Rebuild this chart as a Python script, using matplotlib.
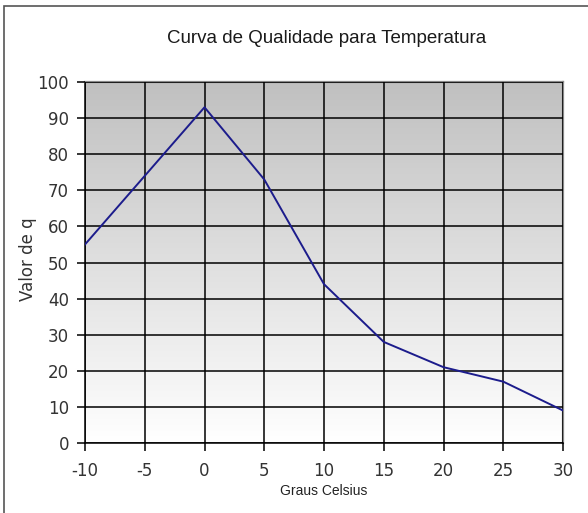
import numpy as np
import matplotlib
matplotlib.use("Agg")
import matplotlib.pyplot as plt
from matplotlib.patches import Rectangle
from matplotlib.colors import LinearSegmentedColormap

# temperatura (graus celsius) vs valor de q
temps = [-10, -5, 0, 5, 10, 15, 20, 25, 30]
q_vals = [55, 74, 93, 73, 44, 28, 21, 17, 9]
x_ticks = [-10, -5, 0, 5, 10, 15, 20, 25, 30]
y_ticks = [0, 10, 20, 30, 40, 50, 60, 70, 80, 90, 100]

plt.rcParams['font.family'] = ['DejaVu Sans']
plt.rcParams['axes.unicode_minus'] = False

W, H = 588, 513
fig = plt.figure(figsize=(W / 100, H / 100), dpi=100)
ax = fig.add_axes([85 / W, (H - 443) / H, (563 - 85) / W, (443 - 82) / H])

# outer chart frame
fig.patches.append(Rectangle((3.5 / W, -0.05), 1.1, 1 - 5.5 / H + 0.05,
                             transform=fig.transFigure, fill=False,
                             edgecolor='#555555', linewidth=1.2))

# gradient background, gray at top to white at bottom
grad = np.linspace(0, 1, 256).reshape(-1, 1)
cmap = LinearSegmentedColormap.from_list('g', ['#c0c0c0', '#ffffff'])
ax.imshow(grad, extent=[-10, 30, 0, 100], aspect='auto', origin='upper',
          cmap=cmap, zorder=0)

ax.plot(temps, q_vals, color='#1c1c8c', linewidth=1.4, zorder=3)

ax.set_xlim(-10, 30)
ax.set_ylim(0, 100)
ax.set_xticks(x_ticks)
ax.set_yticks(y_ticks)
ax.grid(True, color='black', linewidth=1.1, zorder=2)
ax.set_axisbelow(False)
ax.tick_params(direction='out', length=5.5, width=1.1, labelsize=12,
               labelcolor='#333333')
ax.tick_params(axis='y', pad=6)
ax.tick_params(axis='x', pad=8)

for side in ['top', 'right']:
    ax.spines[side].set_color('#888888')
    ax.spines[side].set_linewidth(1.6)
for side in ['left', 'bottom']:
    ax.spines[side].set_color('black')
    ax.spines[side].set_linewidth(1.1)

fig.text(327 / W, (H - 43) / H, "Curva de Qualidade para Temperatura",
         ha='center', va='baseline', fontsize=13.5, color='#1a1a1a',
         family=['Liberation Sans', 'DejaVu Sans'])
fig.text(324 / W, (H - 491) / H, "Graus Celsius", ha='center', va='center',
         fontsize=10, color='#222222', family=['Liberation Sans', 'DejaVu Sans'])
fig.text(28 / W, (H - 259) / H, "Valor de q", ha='center', va='center',
         rotation=90, fontsize=12, color='#333333')

fig.savefig("out.png", dpi=100)
